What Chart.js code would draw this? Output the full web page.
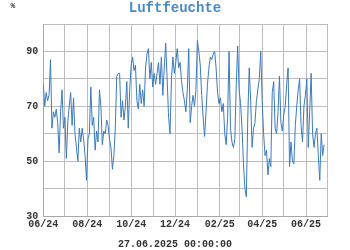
<!DOCTYPE html>
<html>
<head>
<meta charset="utf-8">
<script src="https://cdn.jsdelivr.net/npm/chart.js@4/dist/chart.umd.min.js"></script>
<style>
html,body{margin:0;padding:0;background:#fff;}
#c{display:block;}
</style>
</head>
<body>
<canvas id="c" width="350" height="250"></canvas>
<script>
// ---- data (days counted from 01.06.2024, one value every 2 days) ----
const titleText = 'Luftfeuchte';
const unitText = '%';
const footerText = '27.06.2025 00:00:00';
const stepDays = 2;
const humidity = [
  78,70,75,72,74,87,62,68,66,69,64,53,68,76,62,66,51,64,70,75,
  63,73,60,55,50,62,57,62,58,52,43,58,60,77,63,66,54,61,57,76,
  70,56,61,60,65,63,58,55,47,52,62,81,82,82,66,72,65,70,79,62,
  76,85,88,83,85,72,69,78,71,76,70,84,89,91,80,86,77,82,78,
  82,86,78,88,74,84,93,80,66,60,80,88,82,86,91,84,86,79,75,72,
  68,76,91,64,70,74,70,76,94,90,85,74,66,59,68,78,84,88,87,89,
  90,84,75,71,73,68,71,60,56,66,90,62,57,55,58,78,92,76,71,62,
  49,40,37,66,84,72,55,62,64,72,76,80,90,72,60,52,54,45,51,48,
  75,79,62,60,68,81,64,61,67,70,78,84,48,57,50,49,63,70,76,80,
  63,57,70,74,80,55,68,82,60,55,60,62,52,43,60,52,56
];
// month boundaries (days from 01.06.2024) and their labels
const monthDays = [0,30,61,92,122,153,183,214,245,273,304,334,365,395];
const monthLabels = ['06/24','','08/24','','10/24','','12/24','','02/25','','04/25','','06/25',''];
const yTicks = [30,40,50,60,70,80,90,100];
const yLabels = ['30','','50','','70','','90',''];

const points = humidity.map((v,i)=>({x:i*stepDays, y:v}));

const textPlugin = {
  id:'texts',
  afterDraw(chart){
    const ctx = chart.ctx;
    ctx.save();
    ctx.textAlign='center';
    ctx.textBaseline='middle';
    ctx.fillStyle='#4a8ac6';
    ctx.font='bold 14px "Liberation Mono", monospace';
    ctx.fillText(titleText,175,8);
    ctx.fillStyle='#333';
    ctx.font='bold 8px "Liberation Mono", monospace';
    ctx.fillText(unitText,13,6);
    ctx.font='bold 10px "Liberation Mono", monospace';
    ctx.fillText(footerText,175,244);
    ctx.restore();
  }
};

new Chart(document.getElementById('c'),{
  type:'line',
  data:{datasets:[{
    data:points,
    borderColor:'#3b7bbd',
    borderWidth:1,
    pointRadius:0,
    tension:0,
    fill:false
  }]},
  options:{
    responsive:false,
    animation:false,
    devicePixelRatio:1,
    layout:{padding:{left:0,right:22.3,top:24,bottom:0}},
    plugins:{legend:{display:false},tooltip:{enabled:false},title:{display:false}},
    scales:{
      x:{
        type:'linear',
        min:monthDays[0],
        max:monthDays[monthDays.length-1],
        afterBuildTicks(s){ s.ticks = monthDays.map(v=>({value:v})); },
        afterFit(s){ s.height = 34; },
        grid:{color:'#bdbdbd',lineWidth:1,drawTicks:false},
        border:{color:'#a8a8a8',width:1},
        ticks:{
          autoSkip:false,maxRotation:0,padding:2,color:'#333',
          font:{family:'"Liberation Mono", monospace',size:10,weight:'bold'},
          callback(v){ const i=monthDays.indexOf(v); return i>=0?monthLabels[i]:''; }
        }
      },
      y:{
        type:'linear',
        min:yTicks[0],
        max:yTicks[yTicks.length-1],
        afterBuildTicks(s){ s.ticks = yTicks.map(v=>({value:v})); },
        afterFit(s){ s.width = 43.3; },
        grid:{color:'#bdbdbd',lineWidth:1,drawTicks:false},
        border:{color:'#a8a8a8',width:1},
        ticks:{
          padding:5,color:'#333',
          font:{family:'"Liberation Mono", monospace',size:10,weight:'bold'},
          callback(v){ const i=yTicks.indexOf(v); return i>=0?yLabels[i]:''; }
        }
      }
    }
  },
  plugins:[textPlugin]
});
</script>
</body>
</html>
